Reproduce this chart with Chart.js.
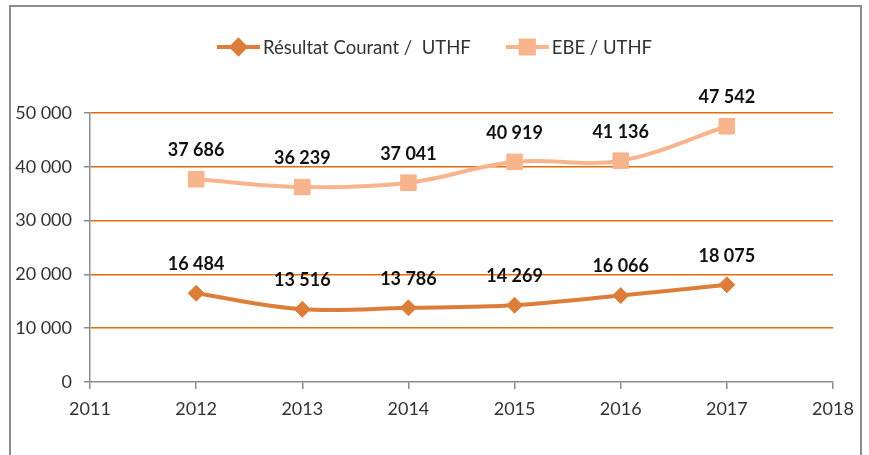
<!DOCTYPE html>
<html>
<head>
<meta charset="utf-8">
<script src="https://cdn.jsdelivr.net/npm/chart.js@4"></script>
<style>
  body { margin: 0; background: #fff; }
  #wrap { position: relative; width: 869px; height: 455px; }
  #frame { position: absolute; left: 9px; top: 5px; width: 853px; height: 460px;
           border: 2px solid #8c8c8c; border-bottom: none; box-sizing: border-box; }
  canvas { position: absolute; left: 0; top: 0; }
</style>
</head>
<body>
<div id="wrap">
  <div id="frame"></div>
  <canvas id="chart" width="869" height="455"></canvas>
</div>
<script>
// data
const years = [2012, 2013, 2014, 2015, 2016, 2017];
const resultatCourant = [16484, 13516, 13786, 14269, 16066, 18075];
const ebe = [37686, 36239, 37041, 40919, 41136, 47542];
const seriesNames = ['Résultat Courant /  UTHF', 'EBE / UTHF'];
const yTicks = [0, 10000, 20000, 30000, 40000, 50000];
const xRange = [2011, 2018];

const FONT = 'Lato, "Open Sans", sans-serif';
const fmt = v => String(v).replace(/\B(?=(\d{3})+(?!\d))/g, ' ');

// value labels above each point
const valueLabels = {
  id: 'valueLabels',
  afterDatasetsDraw(chart) {
    const ctx = chart.ctx;
    ctx.save();
    ctx.font = 'bold 18px ' + FONT;
    ctx.fillStyle = '#111';
    ctx.textAlign = 'center';
    ctx.textBaseline = 'middle';
    chart.data.datasets.forEach((ds, i) => {
      chart.getDatasetMeta(i).data.forEach((pt, j) => {
        ctx.fillText(fmt(ds.data[j].y), pt.x, pt.y - 29);
      });
    });
    ctx.restore();
  }
};

// excel-like legend: line with marker through it
const lineLegend = {
  id: 'lineLegend',
  afterDraw(chart) {
    const ctx = chart.ctx;
    const lineLen = 43, gapText = 3, gapItem = 35, y = 47;
    ctx.save();
    ctx.font = '18.5px ' + FONT;
    const items = chart.data.datasets.map(ds => ({ ds, w: ctx.measureText(ds.label).width }));
    const total = items.reduce((s, it) => s + lineLen + gapText + it.w, 0) + gapItem * (items.length - 1);
    let x = chart.width / 2 - total / 2;
    items.forEach(it => {
      const ds = it.ds;
      ctx.strokeStyle = ds.borderColor;
      ctx.lineWidth = ds.borderWidth;
      ctx.beginPath();
      ctx.moveTo(x, y);
      ctx.lineTo(x + lineLen, y);
      ctx.stroke();
      Chart.helpers.drawPoint(ctx, {
        pointStyle: ds.pointStyle,
        radius: ds.pointRadius * 0.85,
        borderWidth: 1
      }, x + lineLen / 2, y);
      ctx.fillStyle = ds.pointBackgroundColor;
      ctx.strokeStyle = ds.pointBorderColor;
      ctx.fill();
      ctx.fillStyle = '#333';
      ctx.textAlign = 'left';
      ctx.textBaseline = 'middle';
      ctx.fillText(ds.label, x + lineLen + gapText, y + 1);
      x += lineLen + gapText + it.w + gapItem;
    });
    ctx.restore();
  }
};

const toPoints = vals => years.map((yr, i) => ({ x: yr, y: vals[i] }));

new Chart(document.getElementById('chart'), {
  type: 'line',
  data: {
    datasets: [{
      label: seriesNames[0],
      data: toPoints(resultatCourant),
      borderColor: '#DC7E3A',
      backgroundColor: '#DC7E3A',
      borderWidth: 4,
      pointStyle: 'rectRot',
      pointRadius: 8,
      pointBackgroundColor: '#DC7E3A',
      pointBorderColor: '#DC7E3A',
      pointBorderWidth: 1,
      tension: 0.35
    }, {
      label: seriesNames[1],
      data: toPoints(ebe),
      borderColor: '#F8B48D',
      backgroundColor: '#F8B48D',
      borderWidth: 4,
      pointStyle: 'rect',
      pointRadius: 11,
      pointBackgroundColor: '#F8B48D',
      pointBorderColor: '#F8B48D',
      pointBorderWidth: 1,
      tension: 0.35
    }]
  },
  options: {
    responsive: false,
    animation: false,
    layout: { padding: { left: 10, right: 36, top: 113, bottom: 33 } },
    plugins: {
      legend: { display: false },
      tooltip: { enabled: false }
    },
    scales: {
      x: {
        type: 'linear',
        min: xRange[0],
        max: xRange[1],
        afterFit: s => { s.height = 40; },
        afterBuildTicks: s => {
          const t = [];
          for (let v = xRange[0]; v <= xRange[1]; v++) t.push({ value: v });
          s.ticks = t;
        },
        ticks: {
          stepSize: 1,
          color: '#333',
          font: { family: FONT, size: 18 },
          padding: 9,
          callback: v => String(v)
        },
        grid: { drawOnChartArea: false, drawTicks: true, tickLength: 7, tickColor: '#8c8c8c', lineWidth: 1.5 },
        border: { color: '#8c8c8c', width: 1.5 }
      },
      y: {
        min: 0,
        max: 50000,
        afterFit: s => { s.width = 80; },
        afterBuildTicks: s => { s.ticks = yTicks.map(v => ({ value: v })); },
        ticks: {
          color: '#333',
          font: { family: FONT, size: 18 },
          padding: 12,
          callback: v => fmt(v)
        },
        grid: {
          color: c => (c.tick && c.tick.value === 0) ? 'rgba(0,0,0,0)' : '#E46C0A',
          lineWidth: 1.5,
          tickLength: 6,
          tickColor: '#8c8c8c'
        },
        border: { color: '#8c8c8c', width: 1.5 }
      }
    }
  },
  plugins: [valueLabels, lineLegend]
});
</script>
</body>
</html>
